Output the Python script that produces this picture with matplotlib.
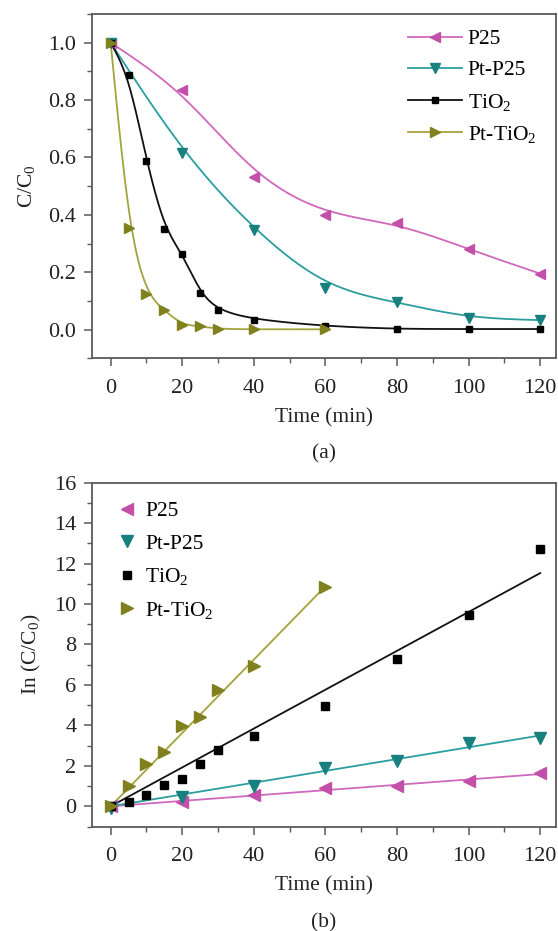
import numpy as np
import matplotlib
matplotlib.use("Agg")
import matplotlib.pyplot as plt
from matplotlib.ticker import MultipleLocator

plt.rcParams['font.family'] = ['Liberation Serif', 'DejaVu Serif']
plt.rcParams['mathtext.fontset'] = 'custom'
plt.rcParams['mathtext.rm'] = 'Liberation Serif'
plt.rcParams['mathtext.it'] = 'Liberation Serif:italic'

# ---------------- data ----------------
labels = ['P25', 'Pt-P25', 'TiO$_2$', 'Pt-TiO$_2$']

# panel (a): C/C0 vs time
t_p25 = [0, 20, 40, 60, 80, 100, 120]
c_p25 = [1.0, 0.835, 0.533, 0.400, 0.372, 0.280, 0.195]
t_ptp25 = [0, 20, 40, 60, 80, 100, 120]
c_ptp25 = [1.0, 0.617, 0.347, 0.145, 0.095, 0.040, 0.033]
t_tio2 = [0, 5, 10, 15, 20, 25, 30, 40, 60, 80, 100, 120]
c_tio2 = [1.0, 0.887, 0.588, 0.352, 0.265, 0.128, 0.067, 0.035, 0.012, 0.002, 0.002, 0.002]
t_pttio2 = [0, 5, 10, 15, 20, 25, 30, 40, 60]
c_pttio2 = [1.0, 0.355, 0.123, 0.067, 0.016, 0.012, 0.002, 0.001, 0.001]

# panel (b): ln(C0/C) vs time
ln_p25 = [0.0, 0.20, 0.58, 0.91, 0.99, 1.24, 1.65]
ln_ptp25 = [-0.1, 0.45, 0.99, 1.90, 2.26, 3.13, 3.38]
ln_tio2 = [0.0, 0.20, 0.58, 1.07, 1.35, 2.11, 2.80, 3.47, 4.95, 7.26, 9.46, 12.74]
ln_pttio2 = [0.0, 1.02, 2.11, 2.67, 3.96, 4.41, 5.74, 6.93, 10.84]

xticks = [0, 20, 40, 60, 80, 100, 120]

# ---------------- style ----------------
line_colors = ['#D068BC', '#2A9E9E', '#111111', '#A3A33C']
mark_colors = ['#C24FA8', '#18807F', '#000000', '#80801E']
markers = ['<', 'v', 's', '>']
spine_col = '#5a5a5a'
TICK_FS = 16
LAB_FS = 15.5
LEG_FS = 15.5


def bspline(x, y, n=30):
    P = np.column_stack([np.asarray(x, float), np.asarray(y, float)])
    P = np.vstack([2 * P[0] - P[1], P, 2 * P[-1] - P[-2]])
    out = []
    t = np.linspace(0, 1, n)
    b0 = (1 - t) ** 3 / 6
    b1 = (3 * t ** 3 - 6 * t ** 2 + 4) / 6
    b2 = (-3 * t ** 3 + 3 * t ** 2 + 3 * t + 1) / 6
    b3 = t ** 3 / 6
    for i in range(len(P) - 3):
        seg = (np.outer(b0, P[i]) + np.outer(b1, P[i + 1]) +
               np.outer(b2, P[i + 2]) + np.outer(b3, P[i + 3]))
        out.append(seg)
    out = np.vstack(out)
    return out[:, 0], out[:, 1]


W, H = 558, 931
fig = plt.figure(figsize=(W / 100, H / 100), dpi=100)

L = 91.7 / W
Wd = (556 - 91.7) / W
ax1 = fig.add_axes([L, 1 - 358.3 / H, Wd, (358.3 - 14) / H])
ax2 = fig.add_axes([L, 1 - 826.5 / H, Wd, (826.5 - 482.7) / H])


def style(ax):
    for s in ax.spines.values():
        s.set_color(spine_col)
        s.set_linewidth(1.3)
    ax.tick_params(which='both', direction='out', colors=spine_col,
                   labelcolor='#222222', labelsize=TICK_FS, top=False, right=False)
    ax.tick_params(which='major', length=6, width=1.1)
    ax.tick_params(which='minor', length=3.5, width=1.0)
    ax.tick_params(axis='x', pad=9)
    ax.tick_params(axis='y', pad=5)
    ax.set_xlim(-5.3, 124.4)
    ax.set_xticks(xticks)
    ax.xaxis.set_minor_locator(MultipleLocator(10))
    ax.set_xlabel('Time (min)', fontsize=LAB_FS, color='#222222', labelpad=7)


# ---- panel a ----
series_a = [(t_p25, c_p25), (t_ptp25, c_ptp25), (t_tio2, c_tio2), (t_pttio2, c_pttio2)]
msz_a = [7.5, 7.5, 4.5, 7.5]
for i, (t, c) in enumerate(series_a):
    xs, ys = bspline(t, c)
    ax1.plot(xs, ys, color=line_colors[i], lw=1.3, zorder=2)
    ax1.plot(t, c, linestyle='none', marker=markers[i], ms=msz_a[i],
             color=mark_colors[i], mec=mark_colors[i], zorder=3)
    ax1.plot([], [], color=line_colors[i], lw=1.3, marker=markers[i], ms=msz_a[i],
             mfc=mark_colors[i], mec=mark_colors[i], label=labels[i])
style(ax1)
ax1.set_ylim(-0.1, 1.1)
ax1.set_yticks([0.0, 0.2, 0.4, 0.6, 0.8, 1.0])
ax1.set_yticklabels(['0.0', '0.2', '0.4', '0.6', '0.8', '1.0'])
ax1.yaxis.set_minor_locator(MultipleLocator(0.1))
ax1.set_ylabel('C/C$_0$', fontsize=LAB_FS, color='#222222', labelpad=8)
ax1.legend(loc='upper left', bbox_to_anchor=(408 / W, 1 - 29 / H),
           bbox_transform=fig.transFigure, frameon=False, fontsize=LEG_FS,
           handlelength=2.5, handletextpad=0.28, labelspacing=0.52,
           borderpad=0, borderaxespad=0, numpoints=1)
ax1.text(0.5, -0.278, '(a)', transform=ax1.transAxes, ha='center', va='center',
         fontsize=LAB_FS, color='#222222')

# ---- panel b ----
series_b = [(t_p25, ln_p25), (t_ptp25, ln_ptp25), (t_tio2, ln_tio2), (t_pttio2, ln_pttio2)]
msz_b = [8, 8, 5.5, 9]
for i, (t, v) in enumerate(series_b):
    t = np.asarray(t, float)
    v = np.asarray(v, float)
    k = np.sum(t * v) / np.sum(t * t)
    xx = np.array([0.0, t.max()])
    ax2.plot(xx, k * xx, color=line_colors[i], lw=1.3, zorder=2)
    ax2.plot(t, v, linestyle='none', marker=markers[i], ms=msz_b[i],
             color=mark_colors[i], zorder=3, label=labels[i])
style(ax2)
ax2.set_ylim(-1, 16)
ax2.set_yticks(range(0, 17, 2))
ax2.yaxis.set_minor_locator(MultipleLocator(1))
ax2.set_ylabel('In (C/C$_0$)', fontsize=LAB_FS, color='#222222', labelpad=8)
ax2.legend(loc='upper left', bbox_to_anchor=(116 / W, 1 - 501 / H),
           bbox_transform=fig.transFigure, frameon=False, fontsize=LEG_FS,
           handlelength=1.0, handletextpad=0.35, labelspacing=0.58,
           borderpad=0, borderaxespad=0, numpoints=1)
ax2.text(0.5, -0.28, '(b)', transform=ax2.transAxes, ha='center', va='center',
         fontsize=LAB_FS, color='#222222')

fig.savefig('out.png', dpi=100, facecolor='white')
